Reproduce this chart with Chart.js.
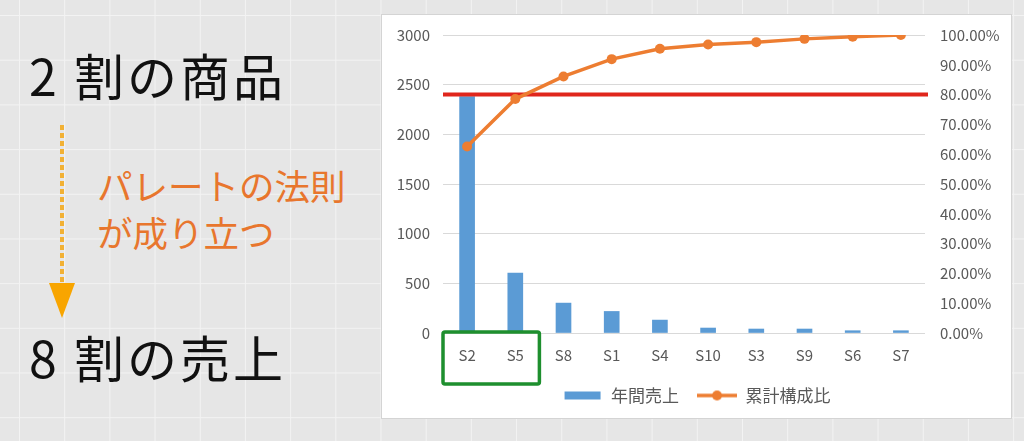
<!DOCTYPE html>
<html lang="ja">
<head>
<meta charset="utf-8">
<script src="https://cdn.jsdelivr.net/npm/chart.js@4/dist/chart.umd.min.js"></script>
<style>
  html,body{margin:0;padding:0;}
  body{
    width:1024px;height:441px;overflow:hidden;position:relative;
    background-color:#e6e6e6;
    background-image:
      linear-gradient(to right,#f3f3f3 1px,transparent 1px),
      linear-gradient(to bottom,#f3f3f3 1px,transparent 1px);
    background-size:45.2px 44.7px;
    background-position:19px 15px;
    font-family:"Noto Sans CJK JP",sans-serif;
  }
  .big{position:absolute;left:29px;font-size:50px;line-height:1;color:#111;white-space:nowrap;letter-spacing:3px;}
  .note{position:absolute;left:97px;font-size:35.5px;line-height:1;color:#e8762d;white-space:nowrap;}
  #panel{position:absolute;left:381px;top:14px;width:631px;height:405px;box-sizing:border-box;
    background:#fff;border:1px solid #d4d4d4;}
  #arrow{position:absolute;left:44px;top:120px;}
</style>
</head>
<body>
<div class="big" style="top:49px">2 割の商品</div>
<div class="big" style="top:331px">8 割の売上</div>
<div class="note" style="top:167px">パレートの法則</div>
<div class="note" style="top:214px">が成り立つ</div>
<svg id="arrow" width="40" height="205">
  <line x1="18" y1="5" x2="18" y2="165" stroke="#f2b134" stroke-width="4" stroke-dasharray="5 3"/>
  <polygon points="5,163 31,163 18,198" fill="#f8a500"/>
</svg>
<div id="panel"><canvas id="pareto"></canvas></div>
<script>
const items=["S2","S5","S8","S1","S4","S10","S3","S9","S6","S7"];
const sales=[2380,602,301,217,130,50,40,40,23,23];
const cumulative=[62.6,78.5,86.1,91.9,95.4,96.8,97.6,98.7,99.4,100];
const seriesNames=["年間売上","累計構成比"];
const threshold=80;

const barColor="#5b9bd5";
const lineColor="#ed7d31";
const tickColor="#595959";

// legend swatches drawn as small canvases
function swatch(kind){
  let c=document.createElement('canvas');
  c.width=40;c.height=12;
  let g=c.getContext('2d');
  if(kind=='bar'){
    g.fillStyle=barColor;
    g.fillRect(2,2,36,8);
  }else{
    g.strokeStyle=lineColor;g.lineWidth=3.5;
    g.beginPath();g.moveTo(0,6);g.lineTo(40,6);g.stroke();
    g.fillStyle=lineColor;
    g.beginPath();g.arc(20,6,5,0,Math.PI*2);g.fill();
  }
  return c;
}
const swatches=[swatch('bar'),swatch('line')];

const extras={
  id:'extras',
  afterDatasetDraw(chart,args){
    if(args.index!==0) return;
    let ctx=chart.ctx,a=chart.chartArea;
    let y=chart.scales.y1.getPixelForValue(threshold);
    ctx.save();
    ctx.strokeStyle="#e0261c";ctx.lineWidth=4;
    ctx.beginPath();ctx.moveTo(a.left,y);ctx.lineTo(a.right+3,y);ctx.stroke();
    ctx.restore();
  },
  afterDraw(chart){
    let ctx=chart.ctx,a=chart.chartArea,x=chart.scales.x;
    let half=(x.getPixelForValue(1)-x.getPixelForValue(0))/2;
    let right=x.getPixelForValue(1)+half;
    ctx.save();
    ctx.strokeStyle="#1e8f2e";ctx.lineWidth=3.5;ctx.lineJoin='round';
    ctx.beginPath();
    ctx.roundRect(a.left,a.bottom-1,right-a.left,52,2);
    ctx.stroke();
    ctx.restore();
  }
};

function fixSide(w){
  return function(s){s.width=w;s.paddingTop=6;s.paddingBottom=6;};
}

new Chart("pareto",{
  type:"bar",
  data:{
    labels:items,
    datasets:[{
      label:seriesNames[0],
      data:sales,
      backgroundColor:barColor,
      yAxisID:'y',
      barThickness:15,
      order:1
    },{
      type:'line',
      label:seriesNames[1],
      data:cumulative,
      borderColor:lineColor,
      backgroundColor:lineColor,
      borderWidth:3.5,
      pointRadius:5,
      pointBackgroundColor:lineColor,
      pointBorderWidth:0,
      yAxisID:'y1',
      order:0
    }]
  },
  options:{
    responsive:true,
    maintainAspectRatio:false,
    animation:false,
    layout:{padding:{top:20,bottom:4,left:0,right:0}},
    plugins:{
      tooltip:{enabled:false},
      legend:{
        position:'bottom',
        labels:{
          usePointStyle:true,
          pointStyleWidth:40,
          padding:18,
          color:tickColor,
          font:{family:"Noto Sans CJK JP",size:17},
          generateLabels(chart){
            return chart.data.datasets.map((d,i)=>({
              text:d.label,
              pointStyle:swatches[i],
              fontColor:tickColor,
              datasetIndex:i,
              hidden:false,
              lineWidth:0
            }));
          }
        }
      }
    },
    scales:{
      x:{
        grid:{display:false},
        border:{display:false},
        ticks:{color:tickColor,padding:5,font:{family:"Noto Sans CJK JP",size:15}},
        afterFit(s){s.height=36;}
      },
      y:{
        position:'left',
        min:0,max:3000,
        ticks:{stepSize:500,color:tickColor,padding:13,font:{family:"Noto Sans CJK JP",size:15},
          callback:v=>String(v)},
        grid:{color:"#d9d9d9",drawTicks:false},
        border:{display:false},
        afterFit:fixSide(61)
      },
      y1:{
        position:'right',
        min:0,max:100,
        ticks:{stepSize:10,color:tickColor,padding:15,font:{family:"Noto Sans CJK JP",size:15},
          callback:v=>v.toFixed(2)+'%'},
        grid:{display:false,drawTicks:false},
        border:{display:false},
        afterFit:fixSide(86)
      }
    }
  },
  plugins:[extras]
});
</script>
</body>
</html>
